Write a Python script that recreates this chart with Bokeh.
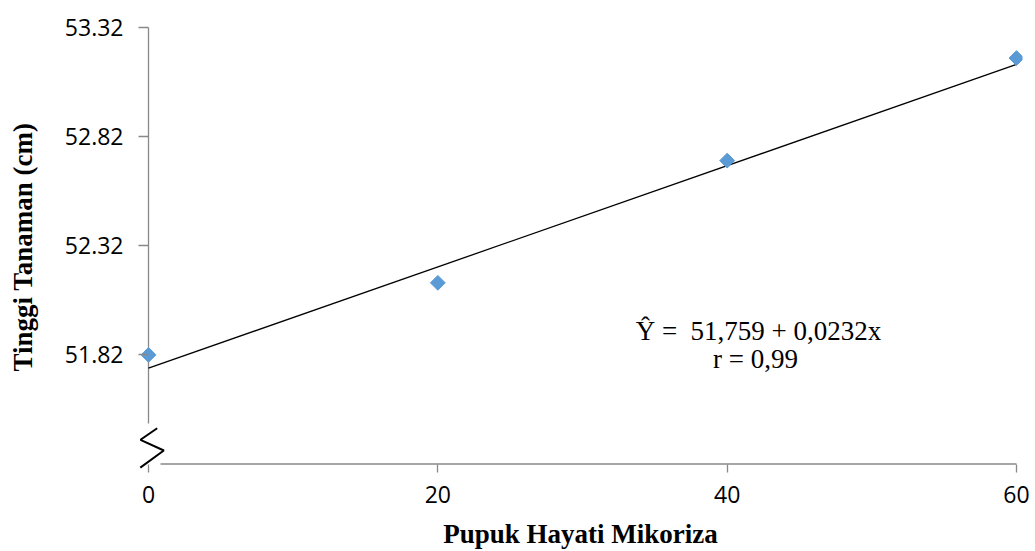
import numpy as np
from bokeh.plotting import figure
from bokeh.models import FixedTicker, Label, Range1d
from bokeh.embed import file_html
from bokeh.resources import INLINE

# ---- data ----
dose = [0, 20, 40, 60]                      # Pupuk Hayati Mikoriza
height_cm = [51.82, 52.15, 52.71, 53.18]    # Tinggi Tanaman (cm)
intercept = 51.759
slope = 0.0232
y_ticks = [51.82, 52.32, 52.82, 53.32]
x_ticks = [0, 20, 40, 60]
eq_text = "Ŷ =\u00a0 51,759 + 0,0232x"
r_text = "r = 0,99"

AXIS_GRAY = "#898989"

# ---- layout (screen px) ----
W, H = 1035, 551
FL, FR, FT, FB = 138, 1022, 24, 469        # frame edges
X0PX, X60PX = 148, 1016                    # where x=0 and x=60 sit
YTOPPX, YBOTPX = 27, 463.5                 # where y=53.32 and y=51.32 sit
sx = (X60PX - X0PX) / 60.0
sy = (YBOTPX - YTOPPX) / 2.0
x_lo = 0 - (X0PX - FL) / sx
x_hi = 60 + (FR - X60PX) / sx
y_lo = 51.32 - (FB - YBOTPX) / sy
y_hi = 53.32 + (YTOPPX - FT) / sy


def dx(px):
    return px / sx


def dy(px):
    return px / sy


p = figure(width=W, height=H, output_backend="svg", toolbar_location=None,
           x_range=Range1d(x_lo, x_hi), y_range=Range1d(y_lo, y_hi),
           min_border_left=FL, min_border_right=W - FR, min_border_top=FT,
           min_border_bottom=H - FB)
p.outline_line_color = None
p.xgrid.visible = False
p.ygrid.visible = False
p.background_fill_color = "white"

for ax in (p.xaxis[0], p.yaxis[0]):
    ax.axis_line_color = None
    ax.major_tick_line_color = AXIS_GRAY
    ax.major_tick_line_width = 1.3
    ax.minor_tick_line_color = None
    ax.major_label_text_font = "Open Sans"
    ax.major_label_text_font_size = "23px"
    ax.major_label_text_color = "black"
    ax.axis_label_text_font = "Liberation Serif"
    ax.axis_label_text_font_style = "bold"
    ax.axis_label_text_color = "black"
    ax.axis_label_text_font_size = "27px"

p.xaxis.ticker = FixedTicker(ticks=x_ticks)
p.yaxis.ticker = FixedTicker(ticks=y_ticks)
p.yaxis.formatter.use_scientific = False
p.yaxis.major_tick_in = X0PX - FL
p.yaxis.major_tick_out = 0
p.xaxis.major_tick_in = int(FB - YBOTPX)
p.xaxis.major_tick_out = 3
p.xaxis.major_label_standoff = 13
p.yaxis.major_label_standoff = 15
p.xaxis.axis_label = "Pupuk Hayati Mikoriza"
p.yaxis.axis_label = "Tinggi Tanaman (cm)"
p.xaxis.axis_label_standoff = 13
p.yaxis.axis_label_standoff = 24

# axis lines (with a break near the origin)
p.segment(x0=[0], y0=[51.32 + dy(40.5)], x1=[0], y1=[53.32],
          line_color=AXIS_GRAY, line_width=1.3)
p.segment(x0=[dx(12)], y0=[51.32], x1=[60], y1=[51.32],
          line_color=AXIS_GRAY, line_width=1.3)
zig_px = [(8.7, 35.8), (-8, 24.2), (15.3, 13.5), (-8.2, -3.6)]
p.line([dx(a) for a, b in zig_px], [51.32 + dy(b) for a, b in zig_px],
       line_color="black", line_width=2)

# regression line
xl = np.array([x_ticks[0], x_ticks[-1]], dtype=float)
p.line(xl, intercept + slope * xl, line_color="black", line_width=1.3)

# observed points
p.scatter(dose, height_cm, marker="square", angle=np.pi / 4, size=10.5,
          fill_color="#5B9BD5", line_color="#5B9BD5")

# equation annotation
p.add_layout(Label(x=dx(758 - X0PX), y=51.32 + dy(YBOTPX - 330), text=eq_text,
                   text_align="center", text_baseline="middle",
                   text_font="Liberation Serif", text_font_size="27px", text_color="black"))
p.add_layout(Label(x=dx(755 - X0PX), y=51.32 + dy(YBOTPX - 358), text=r_text,
                   text_align="center", text_baseline="middle",
                   text_font="Liberation Serif", text_font_size="27px", text_color="black"))

open("out.html", "w").write(file_html(p, INLINE))
